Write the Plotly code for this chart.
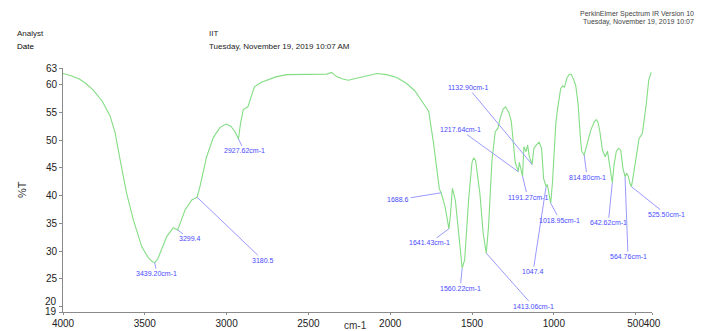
import numpy as np
import plotly.graph_objects as go

# IR spectrum: wavenumber (cm-1) and transmittance (%T)
wavenumber = [
    4000, 3950, 3900, 3860, 3815, 3760, 3713, 3682, 3652, 3611, 3570, 3519,
    3479, 3455, 3439.2, 3420, 3407, 3366, 3326, 3299.4, 3280, 3254, 3213,
    3180.5, 3163, 3122, 3081, 3040, 3004, 2975, 2950, 2927.6, 2915, 2898,
    2870, 2850, 2830, 2790, 2755, 2700, 2633, 2500, 2388, 2358, 2330, 2290,
    2256, 2200, 2144, 2080, 2022, 1960, 1900, 1850, 1806, 1765, 1735, 1714,
    1700, 1688.6, 1665, 1650, 1641.4, 1632, 1620, 1602, 1582, 1560.2, 1545,
    1521, 1500, 1490, 1478, 1452, 1432, 1413.1, 1399, 1378, 1358, 1342, 1328,
    1310, 1295, 1275, 1260, 1246, 1236, 1225, 1217.6, 1211, 1203, 1191.3,
    1183, 1170, 1160, 1150, 1132.9, 1122, 1108, 1090, 1075, 1062, 1055,
    1047.4, 1040, 1030, 1019, 1008, 998, 988, 978, 958, 945, 935, 920, 907,
    895, 880, 866, 852, 838, 830, 814.8, 805, 794, 774, 753, 740, 730, 719,
    703, 686, 672, 660, 651, 642.6, 632, 618, 605, 591, 578, 564.8, 555, 545,
    535, 525.5, 512, 499, 479, 459, 445, 435, 420, 405,
]
transmittance = [
    62.0, 61.6, 61.0, 60.2, 59.0, 57.0, 54.4, 51.4, 46.6, 40.4, 35.6, 30.8,
    28.8, 28.1, 27.9, 28.6, 29.6, 32.6, 34.2, 33.8, 35.3, 37.4, 39.2,
    39.7, 41.6, 47.0, 50.5, 52.3, 52.9, 52.5, 51.6, 50.2, 53.0, 55.5,
    56.0, 58.0, 59.6, 60.4, 60.8, 61.4, 61.8, 61.9, 61.9, 62.2, 61.5, 61.0,
    60.8, 61.2, 61.6, 62.0, 61.8, 61.3, 60.2, 58.9, 57.0, 55.2, 49.4, 44.0,
    41.2, 40.5, 38.0, 35.5, 34.0, 36.5, 41.3, 39.2, 33.2, 26.9, 28.4,
    39.2, 46.0, 46.8, 46.3, 40.4, 33.2, 29.6, 34.4, 46.4, 51.5, 52.1, 53.9,
    55.6, 56.0, 55.0, 53.4, 49.4, 46.0, 45.0, 44.3, 46.0, 44.7, 43.5,
    48.8, 47.9, 49.1, 47.0, 45.6, 48.5, 49.1, 49.6, 48.5, 43.0, 42.4,
    41.6, 42.0, 40.0, 38.6, 42.5, 47.5, 53.0, 55.4, 59.3, 59.8, 59.5, 61.2, 61.8,
    61.9, 61.0, 59.8, 56.6, 50.6, 48.0, 47.3, 48.5, 49.6, 51.8, 53.3, 53.7, 53.2, 51.6,
    48.2, 47.0, 48.0, 45.5, 43.5, 42.3, 45.5, 48.0, 48.5, 48.2, 45.0, 43.4, 44.0, 43.5,
    42.2, 41.6, 44.0, 46.4, 50.3, 51.2, 54.0, 56.5, 60.8, 62.2,
]

# Peak picks shown on the spectrum
peak_wn = [3439.20, 3299.4, 3180.5, 2927.62, 1688.6, 1641.43, 1560.22, 1413.06,
           1217.64, 1191.27, 1132.90, 1047.4, 1018.95, 814.80, 642.62, 564.76, 525.50]
peak_text = ["3439.20cm-1", "3299.4", "3180.5", "2927.62cm-1", "1688.6", "1641.43cm-1",
             "1560.22cm-1", "1413.06cm-1", "1217.64cm-1", "1191.27cm-1", "1132.90cm-1",
             "1047.4", "1018.95cm-1", "814.80cm-1", "642.62cm-1", "564.76cm-1", "525.50cm-1"]
# label offsets (px) from the picked point
label_dx = [2, 12, 66, 6, -43, -19, -2, 47, -58, 5, -64, -13, 9, 3, -4, 3, 35]
label_dy = [11, 9, 63, 12, 7, 14, 20, 53, -42, 21, -77, 85, 17, 22, 40, 80, 28]

y_ticks = [19, 20, 25, 30, 35, 40, 45, 50, 55, 60, 63]
x_ticks = [4000, 3500, 3000, 2500, 2000, 1500, 1000, 500, 400]

W, H = 701, 331
L, R, T, B = 63, 49, 68, 19
FONT = "Liberation Sans, Arial, sans-serif"
AXIS_GREY = "#8a8a8a"

fig = go.Figure()
fig.add_trace(go.Scatter(
    x=wavenumber, y=transmittance, mode="lines",
    line=dict(color="#84dd84", width=1.1), hoverinfo="skip", showlegend=False,
))

wn_asc = np.array(wavenumber[::-1], dtype=float)
t_asc = np.array(transmittance[::-1], dtype=float)

annotations = []
for wn, txt, dx, dy in zip(peak_wn, peak_text, label_dx, label_dy):
    annotations.append(dict(
        x=wn, y=float(np.interp(wn, wn_asc, t_asc)), xref="x", yref="y",
        text=txt, showarrow=True, arrowhead=0, arrowwidth=1,
        arrowcolor="#9a9aff", ax=dx, ay=dy, standoff=0,
        font=dict(family=FONT, size=7, color="#4a4aff"),
    ))

plot_w = W - L - R
plot_h = H - T - B


def px(xp):
    return (xp - L) / plot_w


def py(yp):
    return (H - B - yp) / plot_h


def header(text, xp, yp, size, anchor="left", color="#222", angle=0):
    annotations.append(dict(
        x=px(xp), y=py(yp), xref="paper", yref="paper", text=text,
        showarrow=False, xanchor=anchor, yanchor="middle", textangle=angle,
        font=dict(family=FONT, size=size, color=color),
    ))


header("Analyst", 15, 34, 8)
header("Date", 15, 46, 8, color="#000")
header("IIT", 207, 34, 8)
header("Tuesday, November 19, 2019 10:07 AM", 207, 46, 8)
header("PerkinElmer Spectrum IR Version 10", 696, 14, 7, anchor="right", color="#444")
header("Tuesday, November 19, 2019 10:07", 696, 22, 7, anchor="right", color="#444")
header("%T", 22, 190, 11, anchor="center", color="#333", angle=-90)
header("cm-1", 355, 325, 10, anchor="center", color="#333")

# low-end y tick labels, spread apart so they stay readable
for val, ypix in [(20, 301), (19, 311.5)]:
    header(str(val), 59, ypix, 10, anchor="right")

fig.update_layout(
    width=W, height=H,
    margin=dict(l=L, r=R, t=T, b=B, pad=0, autoexpand=False),
    paper_bgcolor="white", plot_bgcolor="white",
    font=dict(family=FONT, size=10, color="#222"),
    annotations=annotations,
    xaxis=dict(
        range=[4000, 400], tickvals=x_ticks, ticktext=[str(v) for v in x_ticks],
        tickangle=0, showgrid=False, zeroline=False, automargin=False,
        showline=True, linecolor=AXIS_GREY, linewidth=1,
        ticks="outside", ticklen=2, tickcolor=AXIS_GREY,
        tickfont=dict(family=FONT, size=10, color="#222"),
    ),
    yaxis=dict(
        range=[19, 63], tickvals=y_ticks, automargin=False,
        ticktext=["" if v in (19, 20) else str(v) for v in y_ticks],
        showgrid=False, zeroline=False,
        showline=True, linecolor=AXIS_GREY, linewidth=1,
        ticks="outside", ticklen=3, tickcolor=AXIS_GREY,
        tickfont=dict(family=FONT, size=10, color="#222"),
    ),
)

fig.write_html("out.html")
